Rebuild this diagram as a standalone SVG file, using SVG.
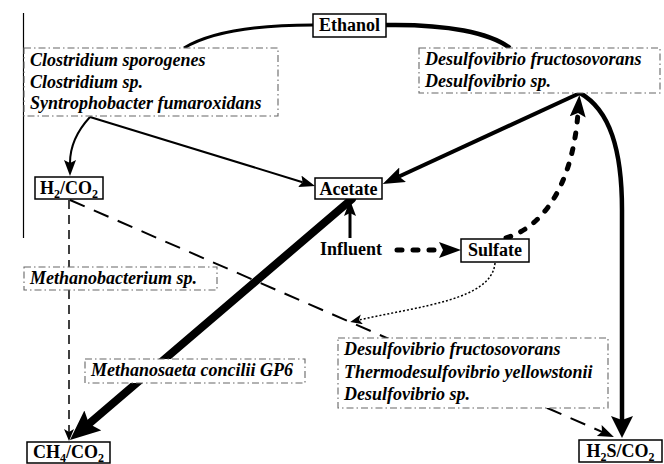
<svg xmlns="http://www.w3.org/2000/svg" width="664" height="464" viewBox="0 0 664 464">
<style>
  .node rect { fill: #fff; stroke: #000; stroke-width: 1.5; }
  .lbl { font-family: "Liberation Serif", "Times New Roman", serif; font-weight: bold; font-size: 18px; fill: #000; }
  .sp rect { fill: #fff; stroke: #666; stroke-width: 1.1; stroke-dasharray: 7,3,1.5,3; }
  .sp text { font-family: "Liberation Serif", "Times New Roman", serif; font-weight: bold; font-style: italic; font-size: 18px; fill: #000; }
  .ln { fill: none; stroke: #000; }
  .sub { font-size: 12px; }
</style>
<defs>
  <marker id="mBig" markerUnits="userSpaceOnUse" markerWidth="32" markerHeight="28" viewBox="0 0 32 28" refX="5" refY="13" orient="auto">
    <path d="M0,0 L30,13 L0,26 L5,13 z" fill="#000"/>
  </marker>
  <marker id="mHead" markerUnits="userSpaceOnUse" markerWidth="24" markerHeight="24" viewBox="0 0 24 24" refX="4" refY="11" orient="auto">
    <path d="M0,0 L22,11 L0,22 L4,11 z" fill="#000"/>
  </marker>
  <marker id="mHeadS" markerUnits="userSpaceOnUse" markerWidth="24" markerHeight="18" viewBox="0 0 24 18" refX="4" refY="8" orient="auto">
    <path d="M0,0 L22,8 L0,16 L4,8 z" fill="#000"/>
  </marker>
  <marker id="mMed" markerUnits="userSpaceOnUse" markerWidth="18" markerHeight="14" viewBox="0 0 18 14" refX="3" refY="6" orient="auto">
    <path d="M0,0 L16,6 L0,12 L3,6 z" fill="#000"/>
  </marker>
  <marker id="mSmall" markerUnits="userSpaceOnUse" markerWidth="14" markerHeight="12" viewBox="0 0 14 12" refX="3" refY="5" orient="auto">
    <path d="M0,0 L12,5 L0,10 L3,5 z" fill="#000"/>
  </marker>
</defs>

<line x1="23.5" y1="13" x2="23.5" y2="238" stroke="#000" stroke-width="1.2"/>

<g id="connectors">
  <path class="ln" d="M313,25 C262,25 212,31 184,48" stroke-width="3"/>
  <path class="ln" d="M386,25 C448,24 490,33 510,48" stroke-width="4.5"/>
  <path class="ln" d="M90,117 C78,130 70,145 70,163" stroke-width="2" marker-end="url(#mMed)"/>
  <path class="ln" d="M90,117 L302.6,182.2" stroke-width="2" marker-end="url(#mMed)"/>
  <path class="ln" d="M580,93 L399,176.5" stroke-width="4" marker-end="url(#mHeadS)"/>
  <path class="ln" d="M580,93 C610,110 622,150 622,210 L622,420" stroke-width="4.5" marker-end="url(#mHead)"/>
  <path class="ln" d="M350,238 L350,213" stroke-width="3" marker-end="url(#mMed)"/>
  <path class="ln" d="M69,200 L69,432" stroke-width="1.5" stroke-dasharray="9,6" marker-end="url(#mSmall)"/>
  <path class="ln" d="M70,200 L602,431.8" stroke-width="2" stroke-dasharray="16,10" marker-end="url(#mMed)"/>
  <path class="ln" d="M352,199 L89,423.7" stroke-width="8" stroke-linecap="round" marker-end="url(#mBig)"/>
  <path class="ln" d="M397,250 L443,250" stroke-width="5" stroke-linecap="round" stroke-dasharray="5,11" marker-end="url(#mHeadS)"/>
  <path class="ln" d="M506,238 C540,228 572,190 578,113" stroke-width="5" stroke-linecap="round" stroke-dasharray="5,11" marker-end="url(#mHeadS)"/>
  <path class="ln" d="M495,263 C492,300 420,306 359,320" stroke-width="1.5" stroke-dasharray="2,2" marker-end="url(#mSmall)"/>
</g>

<g id="ethanol" class="node">
  <rect x="313" y="14" width="73" height="23"/>
  <text class="lbl" x="349.5" y="31" text-anchor="middle">Ethanol</text>
</g>
<g id="h2co2" class="node">
  <rect x="35" y="177" width="68" height="22"/>
  <text class="lbl" x="69" y="194" text-anchor="middle">H<tspan class="sub" dy="4">2</tspan><tspan dy="-4">/CO</tspan><tspan class="sub" dy="4">2</tspan></text>
</g>
<g id="acetate" class="node">
  <rect x="315" y="178" width="67" height="21"/>
  <text class="lbl" x="348.5" y="194.5" text-anchor="middle">Acetate</text>
</g>
<g id="influent">
  <text class="lbl" x="320" y="255">Influent</text>
</g>
<g id="sulfate" class="node">
  <rect x="461" y="239" width="68" height="23"/>
  <text class="lbl" x="495" y="256" text-anchor="middle">Sulfate</text>
</g>
<g id="ch4co2" class="node">
  <rect x="27" y="442" width="83" height="21"/>
  <text class="lbl" x="68.5" y="458" text-anchor="middle">CH<tspan class="sub" dy="4">4</tspan><tspan dy="-4">/CO</tspan><tspan class="sub" dy="4">2</tspan></text>
</g>
<g id="h2sco2" class="node">
  <rect x="579" y="440" width="83" height="22"/>
  <text class="lbl" x="620.5" y="456.5" text-anchor="middle">H<tspan class="sub" dy="4">2</tspan><tspan dy="-4">S/CO</tspan><tspan class="sub" dy="4">2</tspan></text>
</g>

<g id="clostridium" class="sp">
  <rect x="24" y="48" width="254" height="68"/>
  <text x="30" y="66">Clostridium sporogenes</text>
  <text x="30" y="87.5">Clostridium sp.</text>
  <text x="30" y="109">Syntrophobacter fumaroxidans</text>
</g>
<g id="desulfo-top" class="sp">
  <rect x="419" y="48" width="241" height="45"/>
  <text x="425" y="65">Desulfovibrio fructosovorans</text>
  <text x="425" y="87">Desulfovibrio sp.</text>
</g>
<g id="methanobacterium" class="sp">
  <rect x="24" y="267" width="193" height="23"/>
  <text x="30" y="284">Methanobacterium sp.</text>
</g>
<g id="methanosaeta" class="sp">
  <rect x="85" y="359" width="220" height="24"/>
  <text x="91" y="376">Methanosaeta concilii GP6</text>
</g>
<g id="desulfo-bottom" class="sp">
  <rect x="338" y="338" width="270" height="70"/>
  <text x="344" y="355">Desulfovibrio fructosovorans</text>
  <text x="344" y="378">Thermodesulfovibrio yellowstonii</text>
  <text x="344" y="400">Desulfovibrio sp.</text>
</g>
</svg>
